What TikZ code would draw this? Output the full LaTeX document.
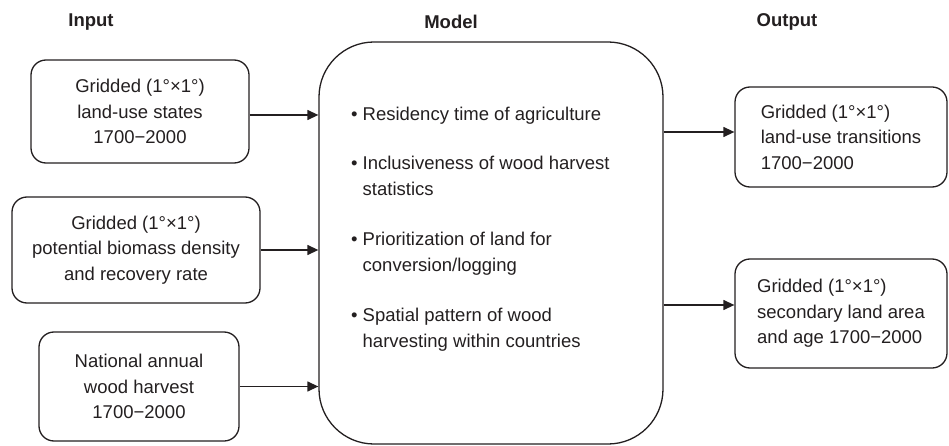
\documentclass[tikz,border=0pt]{standalone}
\usepackage{fontspec}
\setmainfont{Liberation Sans}
\usetikzlibrary{arrows.meta}
\definecolor{ink}{HTML}{231F20}

\begin{document}
\begin{tikzpicture}[x=1pt,y=-1pt,
  every node/.style={font=\fontsize{18.5}{25.5}\selectfont, text=ink},
  head/.style={font=\fontsize{18.5}{25.5}\selectfont\bfseries},
  box/.style={draw=ink, line width=1.3pt, rounded corners=15pt, align=center, inner sep=0pt},
  item/.style={anchor=west, inner sep=0pt},
  arr/.style={draw=ink, line width=1.3pt, -{Triangle[length=11pt,width=10pt]}}]
\useasboundingbox (0,0) rectangle (949,446);
% column heads
\node[head] (hin) at (91,22) {Input};
\node[head] (hmod) at (451,22) {Model};
\node[head] (hout) at (787,22) {Output};
% input boxes
\node[box, minimum width=218pt, minimum height=103pt] (in1) at (140,111.5)
  {Gridded (1°×1°)\\land-use states\\1700−2000};
\node[box, minimum width=248pt, minimum height=106pt] (in2) at (136,250)
  {Gridded (1°×1°)\\potential biomass density\\and recovery rate};
\node[box, minimum width=200pt, minimum height=109pt] (in3) at (139,386.5)
  {National annual\\wood harvest\\1700−2000};
% model
\node[box, rounded corners=55pt, minimum width=344pt, minimum height=402pt] (model) at (491,243) {};
\node[item] (m1) at (351,115)
  {\begin{tabular}{@{}l@{\hspace{5pt}}l@{}}•&Residency time of agriculture\end{tabular}};
\node[item] (m2) at (351,177.5)
  {\begin{tabular}{@{}l@{\hspace{5pt}}l@{}}•&Inclusiveness of wood harvest\\&statistics\end{tabular}};
\node[item] (m3) at (351,253.5)
  {\begin{tabular}{@{}l@{\hspace{5pt}}l@{}}•&Prioritization of land for\\&conversion/logging\end{tabular}};
\node[item] (m4) at (351,329.5)
  {\begin{tabular}{@{}l@{\hspace{5pt}}l@{}}•&Spatial pattern of wood\\&harvesting within countries\end{tabular}};
% output boxes
\node[box, align=left, minimum width=212pt, minimum height=100pt] (out1) at (841,137)
  {Gridded (1°×1°)\\land-use transitions\\1700−2000};
\node[box, align=left, minimum width=212pt, minimum height=109pt] (out2) at (841,313.5)
  {Gridded (1°×1°)\\secondary land area\\and age 1700−2000};
% arrows
\coordinate (a1) at ([yshift=-3.5pt]in1.east);
\coordinate (o1) at ([yshift=5pt]out1.west);
\coordinate (o2) at ([yshift=8.5pt]out2.west);
\draw[arr] (a1) -- (a1 -| model.west);
\draw[arr] (in2.east) -- (in2.east -| model.west);
\draw[arr] (in3.east) -- (in3.east -| model.west);
\draw[arr] (o1 -| model.east) -- (o1);
\draw[arr] (o2 -| model.east) -- (o2);
\end{tikzpicture}
\end{document}
